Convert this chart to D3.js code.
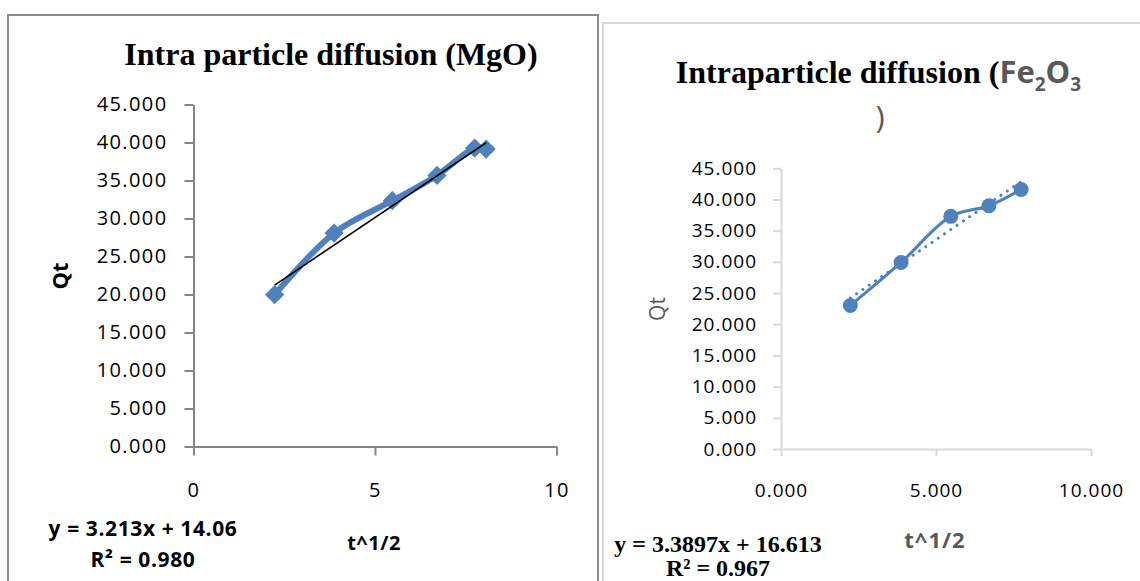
<!DOCTYPE html>
<html>
<head>
<meta charset="utf-8">
<script src="https://cdn.jsdelivr.net/npm/d3@7"></script>
<style>
	body { margin: 0; background: #fff; }
	svg { display: block; }
</style>
</head>
<body>
<svg id="chart" width="1140" height="581"></svg>
<script>
// t^1/2 and Qt
const mgoX = [2.236, 3.873, 5.477, 6.708, 7.746, 8.062];
const mgoQt = [19.98, 28.09, 32.34, 35.67, 39.27, 39.14];
const fe2o3X = [2.236, 3.873, 5.477, 6.708, 7.746];
const fe2o3Qt = [23.0, 29.9, 37.3, 39.0, 41.6];

// linear trend lines, [slope, intercept]
const mgoFit = [3.213, 14.06];
const fe2o3Fit = [3.3897, 16.613];

const qtTicks = [0, 5, 10, 15, 20, 25, 30, 35, 40, 45];
const timeTicks = [0, 5, 10];

const mgoEquation = ["y = 3.213x + 14.06", "R² = 0.980"];
const fe2o3Equation = ["y = 3.3897x + 16.613", "R² = 0.967"];

const blue = "#4F81BD",
	sans = "Open Sans",
	serif = "Liberation Serif";

let svg = d3.select("#chart");
svg.append("rect").attr("width", 1140).attr("height", 581).attr("fill", "#fff");

function styleAxis(g, color, fontSize, spacing) {
	g.attr("font-family", null).attr("font-size", null);
	g.select(".domain").attr("stroke", color).attr("stroke-width", 2);
	g.selectAll(".tick line").attr("stroke", color).attr("stroke-width", 2);
	g.selectAll(".tick text")
		.attr("fill", "#000")
		.attr("font-family", sans)
		.attr("font-size", fontSize)
		.attr("letter-spacing", spacing);
}

// ---------- left panel : MgO ----------
function drawMgO() {
	svg.append("rect")
		.attr("x", 8).attr("y", 15)
		.attr("width", 590).attr("height", 620)
		.attr("fill", "none")
		.attr("stroke", "#8a8a8a")
		.attr("stroke-width", 2);

	svg.append("text")
		.attr("x", 331).attr("y", 65)
		.attr("text-anchor", "middle")
		.attr("font-family", serif)
		.attr("font-weight", "bold")
		.attr("font-size", 32)
		.text("Intra particle diffusion (MgO)");

	let x = d3.scaleLinear().domain([0, 10]).range([193.5, 556.5]);
	let y = d3.scaleLinear().domain([0, 45]).range([446.5, 104.5]);

	let yAxis = svg.append("g")
		.attr("transform", "translate(" + x(0) + ",0)")
		.call(d3.axisLeft(y).tickValues(qtTicks).tickFormat(d3.format(".3f"))
			.tickSize(9).tickSizeOuter(0).tickPadding(17));
	styleAxis(yAxis, "#868686", 20, 1.4);

	let xAxis = svg.append("g")
		.attr("transform", "translate(0," + y(0) + ")")
		.call(d3.axisBottom(x).tickValues(timeTicks).tickFormat(d3.format("d"))
			.tickSize(9).tickSizeOuter(0).tickPadding(27));
	styleAxis(xAxis, "#868686", 20, 1.4);

	// axis titles
	svg.append("text")
		.attr("transform", "translate(60,276) rotate(-90)")
		.attr("text-anchor", "middle")
		.attr("dy", "0.35em")
		.attr("font-family", sans)
		.attr("font-weight", "bold")
		.attr("font-size", 22)
		.text("Qt");
	svg.append("text")
		.attr("x", 374).attr("y", 550)
		.attr("text-anchor", "middle")
		.attr("font-family", sans)
		.attr("font-weight", "bold")
		.attr("font-size", 20)
		.attr("letter-spacing", 0.5)
		.text("t^1/2");

	// smoothed series line
	let line = d3.line()
		.x(function (d, i) { return x(mgoX[i]); })
		.y(function (d) { return y(d); })
		.curve(d3.curveCatmullRom.alpha(0.5));
	svg.append("path")
		.datum(mgoQt)
		.attr("fill", "none")
		.attr("stroke", blue)
		.attr("stroke-width", 6)
		.attr("stroke-linejoin", "round")
		.attr("d", line);

	// diamond markers
	svg.selectAll(".mgo-pt")
		.data(mgoQt)
		.enter().append("path")
		.attr("class", "mgo-pt")
		.attr("transform", function (d, i) {
			return "translate(" + x(mgoX[i]) + "," + y(d) + ") rotate(45)";
		})
		.attr("d", d3.symbol().type(d3.symbolSquare).size(185))
		.attr("fill", blue);

	// trend line
	let fit = d3.line()
		.x(function (d) { return x(d); })
		.y(function (d) { return y(mgoFit[0] * d + mgoFit[1]); });
	svg.append("path")
		.datum(d3.extent(mgoX))
		.attr("fill", "none")
		.attr("stroke", "#000")
		.attr("stroke-width", 1.6)
		.attr("d", fit);

	svg.selectAll(".mgo-eq")
		.data(mgoEquation)
		.enter().append("text")
		.attr("class", "mgo-eq")
		.attr("x", 143)
		.attr("y", function (d, i) { return 536 + i * 31; })
		.attr("text-anchor", "middle")
		.attr("font-family", sans)
		.attr("font-weight", "bold")
		.attr("font-size", 21)
		.attr("letter-spacing", 0.6)
		.text(function (d) { return d; });
}

// ---------- right panel : Fe2O3 ----------
function drawFe2O3() {
	svg.append("rect")
		.attr("x", 603).attr("y", 23)
		.attr("width", 620).attr("height", 620)
		.attr("fill", "none")
		.attr("stroke", "#d9d9d9")
		.attr("stroke-width", 2);

	let title = svg.append("text")
		.attr("x", 878.5).attr("y", 82.6)
		.attr("text-anchor", "middle");
	title.append("tspan")
		.attr("font-family", serif)
		.attr("font-weight", "bold")
		.attr("font-size", 32)
		.text("Intraparticle diffusion (");
	let chem = [["Fe", 31, 0], ["2", 19, 8.5], ["O", 31, -8.5], ["3", 19, 8.5]];
	chem.forEach(function (c) {
		title.append("tspan")
			.attr("font-family", sans)
			.attr("font-weight", "bold")
			.attr("font-size", c[1])
			.attr("dy", c[2])
			.attr("fill", "#595959")
			.text(c[0]);
	});
	svg.append("text")
		.attr("x", 880).attr("y", 128)
		.attr("text-anchor", "middle")
		.attr("font-family", sans)
		.attr("font-size", 31)
		.attr("fill", "#595959")
		.text(")");

	let x = d3.scaleLinear().domain([0, 10]).range([781, 1091]);
	let y = d3.scaleLinear().domain([0, 45]).range([449, 168.3]);

	let yAxis = svg.append("g")
		.attr("transform", "translate(" + x(0) + ",0)")
		.call(d3.axisLeft(y).tickValues(qtTicks).tickFormat(d3.format(".3f"))
			.tickSize(8).tickSizeOuter(0).tickPadding(16));
	styleAxis(yAxis, "#d9d9d9", 19, 1);

	let xAxis = svg.append("g")
		.attr("transform", "translate(0," + y(0) + ")")
		.call(d3.axisBottom(x).tickValues(timeTicks).tickFormat(d3.format(".3f"))
			.tickSize(7).tickSizeOuter(0).tickPadding(27.5));
	styleAxis(xAxis, "#d9d9d9", 19, 1);

	svg.append("text")
		.attr("transform", "translate(658,309) rotate(-90)")
		.attr("text-anchor", "middle")
		.attr("dy", "0.35em")
		.attr("font-family", sans)
		.attr("font-size", 21)
		.attr("fill", "#595959")
		.text("Qt");
	svg.append("text")
		.attr("x", 935).attr("y", 548)
		.attr("text-anchor", "middle")
		.attr("font-family", sans)
		.attr("font-weight", "bold")
		.attr("font-size", 22)
		.attr("letter-spacing", 1)
		.attr("fill", "#595959")
		.text("t^1/2");

	let line = d3.line()
		.x(function (d, i) { return x(fe2o3X[i]); })
		.y(function (d) { return y(d); })
		.curve(d3.curveCatmullRom.alpha(0.5));
	svg.append("path")
		.datum(fe2o3Qt)
		.attr("fill", "none")
		.attr("stroke", blue)
		.attr("stroke-width", 3)
		.attr("d", line);

	svg.selectAll(".fe-pt")
		.data(fe2o3Qt)
		.enter().append("circle")
		.attr("class", "fe-pt")
		.attr("cx", function (d, i) { return x(fe2o3X[i]); })
		.attr("cy", function (d) { return y(d); })
		.attr("r", 7.5)
		.attr("fill", blue);

	// dotted trend line
	let fit = d3.line()
		.x(function (d) { return x(d); })
		.y(function (d) { return y(fe2o3Fit[0] * d + fe2o3Fit[1]); });
	svg.append("path")
		.datum(d3.extent(fe2o3X))
		.attr("fill", "none")
		.attr("stroke", blue)
		.attr("stroke-width", 3)
		.attr("stroke-linecap", "round")
		.attr("stroke-dasharray", "0.1 7.5")
		.attr("d", fit);

	svg.selectAll(".fe-eq")
		.data(fe2o3Equation)
		.enter().append("text")
		.attr("class", "fe-eq")
		.attr("x", 718)
		.attr("y", function (d, i) { return 552 + i * 24; })
		.attr("text-anchor", "middle")
		.attr("font-family", serif)
		.attr("font-weight", "bold")
		.attr("font-size", 24)
		.text(function (d) { return d; });
}

drawMgO();
drawFe2O3();
</script>
</body>
</html>
